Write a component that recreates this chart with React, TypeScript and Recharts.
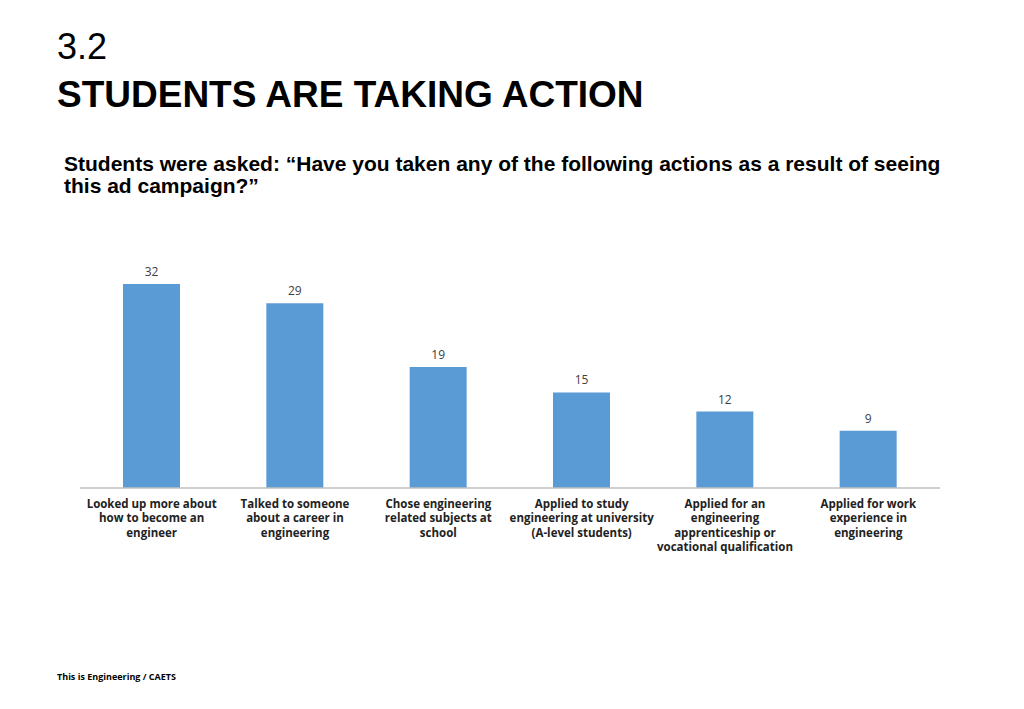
import React from "react";
import { BarChart, Bar, XAxis, YAxis, LabelList } from "recharts";

const categories = [
  "Looked up more about how to become an engineer",
  "Talked to someone about a career in engineering",
  "Chose engineering related subjects at school",
  "Applied to study engineering at university (A-level students)",
  "Applied for an engineering apprenticeship or vocational qualification",
  "Applied for work experience in engineering",
];
const tickLines = [
  ["Looked up more about", "how to become an", "engineer"],
  ["Talked to someone", "about a career in", "engineering"],
  ["Chose engineering", "related subjects at", "school"],
  ["Applied to study", "engineering at university", "(A-level students)"],
  ["Applied for an", "engineering", "apprenticeship or", "vocational qualification"],
  ["Applied for work", "experience in", "engineering"],
];
const values = [32, 29, 19, 15, 12, 9];

const data = categories.map((c, i) => ({ name: c, value: values[i], idx: i }));

const Tick = (props: any) => {
  const { x, y, index } = props;
  const lines = tickLines[index] || [];
  return (
    <g transform={`translate(${x},${y})`}>
      <text textAnchor="middle" fontFamily="'Open Sans', sans-serif" fontWeight={700} fontSize={11.5} fill="#222">
        {lines.map((l, i) => (
          <tspan key={i} x={0} y={12 + i * 14.4}>{l}</tspan>
        ))}
      </text>
    </g>
  );
};

export default function App() {
  return (
    <div style={{ position: "absolute", left: 0, top: 0, width: 1024, height: 709, background: "#fff", fontFamily: "'Liberation Sans', Arial, sans-serif" }}>
      <div style={{ position: "absolute", left: 57, top: 29, fontSize: 36, lineHeight: "36px", color: "#000" }}>3.2</div>
      <div style={{ position: "absolute", left: 57, top: 76, fontSize: 37, lineHeight: "37px", fontWeight: 700, color: "#000", whiteSpace: "nowrap" }}>STUDENTS ARE TAKING ACTION</div>
      <div style={{ position: "absolute", left: 64, top: 153, width: 920, fontSize: 21, lineHeight: "22px", fontWeight: 700, color: "#000" }}>
        Students were asked: “Have you taken any of the following actions as a result of seeing<br />this ad campaign?”
      </div>
      <div style={{ position: "absolute", left: 57, top: 670, fontSize: 9, fontWeight: 700, color: "#000", fontFamily: "'Open Sans', sans-serif" }}>This is Engineering / CAETS</div>
      <div style={{ position: "absolute", left: 0, top: 0 }}>
        <BarChart width={1024} height={709} data={data} margin={{ top: 265, right: 84, bottom: 141, left: 80 }} barCategoryGap="20%">
          <XAxis dataKey="name" interval={0} height={80} tickLine={false} axisLine={{ stroke: "#bfbfbf", strokeWidth: 1.5 }} tick={<Tick />} />
          <YAxis hide domain={[0, 35]} />
          <Bar dataKey="value" fill="#5b9bd5" barSize={57} isAnimationActive={false}>
            <LabelList dataKey="value" position="top" offset={8} fill="#404040" fontSize={12} fontFamily="'Open Sans', sans-serif" />
          </Bar>
        </BarChart>
      </div>
    </div>
  );
}
